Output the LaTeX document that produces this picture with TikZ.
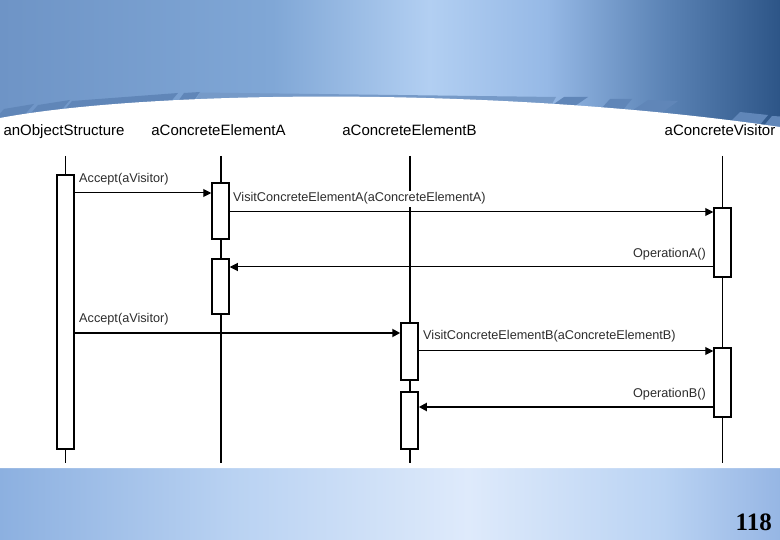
\documentclass[tikz,border=0pt]{standalone}
\usepackage{fontspec}
\setmainfont{Liberation Sans}
\newfontfamily\numfont{Liberation Serif}
\usetikzlibrary{arrows.meta}
\definecolor{bgA}{RGB}{110,148,198}
\definecolor{bgB}{RGB}{128,167,214}
\definecolor{bgC}{RGB}{178,207,242}
\definecolor{bgD}{RGB}{150,185,230}
\definecolor{bgE}{RGB}{92,132,182}
\definecolor{bgF}{RGB}{45,85,135}
\definecolor{btA}{RGB}{140,176,224}
\definecolor{btB}{RGB}{185,210,242}
\definecolor{btC}{RGB}{222,234,251}
\definecolor{btD}{RGB}{186,211,243}
\definecolor{btE}{RGB}{150,182,228}
\definecolor{stripe}{RGB}{96,134,184}
\definecolor{stripeL}{RGB}{118,154,200}
\definecolor{txt}{RGB}{45,45,45}
\pgfdeclarehorizontalshading{topbg}{100bp}{color(0bp)=(bgA); color(25bp)=(bgA); color(42.5bp)=(bgB); color(52.5bp)=(bgC); color(60bp)=(bgD); color(67.5bp)=(bgE); color(75bp)=(bgF); color(100bp)=(bgF)}
\pgfdeclarehorizontalshading{botbg}{100bp}{color(0bp)=(btA); color(25bp)=(btA); color(40bp)=(btB); color(55bp)=(btC); color(67.5bp)=(btD); color(75bp)=(btE); color(100bp)=(btE)}
\tikzset{
  act/.style={draw=black, fill=white, line width=1.5pt, minimum width=17pt, inner sep=0pt, rectangle},
  header/.style={anchor=base, text=black, font=\fontsize{15}{15}\selectfont, inner sep=0pt},
  msglabel/.style={text=txt, font=\fontsize{12.7}{13}\selectfont, inner sep=0pt},
  msg/.style={line width=1pt, -{Triangle[length=8pt,width=8pt]}},
  msgthick/.style={line width=1.8pt, -{Triangle[length=8pt,width=8pt]}},
  lifethin/.style={line width=1pt},
  lifethick/.style={line width=2pt},
}
\begin{document}
\begin{tikzpicture}[x=1pt,y=-1pt]
\useasboundingbox (0,0) rectangle (780,540);
% backgrounds
\shade[shading=topbg] (0,0) rectangle (780,135);
\shade[shading=botbg] (0,460) rectangle (780,540);
% stripes
\fill[stripe] (-10,125) -- (20,120) -- (34,104) -- (4,109) -- cycle;
\fill[stripe] (26,119) -- (58,114) -- (70,100) -- (38,105) -- cycle;
\fill[stripe] (62,113) -- (168,105) -- (178,93) -- (72,101) -- cycle;
\fill[stripe] (176,104) -- (192,103) -- (200,92) -- (184,93) -- cycle;
\fill[stripeL] (195,102) -- (552,104) -- (556,97) -- (200,92.5) -- cycle;
\fill[stripe] (548,108) -- (572,108) -- (588,97) -- (564,97) -- cycle;
\fill[stripe] (600,110) -- (622,111) -- (632,99) -- (610,99) -- cycle;
\fill[stripe] (630,112) -- (660,114) -- (678,101) -- (648,100) -- cycle;
\fill[stripe] (728,124) -- (758,127) -- (768,115) -- (740,112) -- cycle;
\fill[stripe] (762,128) -- (790,131) -- (790,117) -- (772,116) -- cycle;
% white area
\fill[white] (0,118) .. controls (150,90) and (500,86) .. (780,127) -- (780,468) -- (0,468) -- cycle;
% headers
\node[header] (hOS) at (64,136) {anObjectStructure};
\node[header] (hA) at (218.5,136) {aConcreteElementA};
\node[header] (hB) at (409.5,136) {aConcreteElementB};
\node[header] (hV) at (720,136) {aConcreteVisitor};
% lifelines
\coordinate (osT) at (65.5,156); \coordinate (osB) at (65.5,463);
\coordinate (aT) at (220.5,156); \coordinate (aB) at (220.5,463);
\coordinate (bT) at (409.5,156); \coordinate (bB) at (409.5,463);
\coordinate (vT) at (722.5,156); \coordinate (vB) at (722.5,463);
\draw[lifethin] (osT) -- (osB);
\draw[lifethick] (aT) -- (aB);
\draw[lifethick] (bT) -- (bB);
\draw[lifethin] (vT) -- (vB);
% activations
\node[act, minimum height=274pt] (os) at (65.5,312) {};
\node[act, minimum height=56pt] (a1) at (220.5,211) {};
\node[act, minimum height=55pt] (a2) at (220.5,286.5) {};
\node[act, minimum height=57pt] (b1) at (409.5,351.5) {};
\node[act, minimum height=57pt] (b2) at (409.5,420.5) {};
\node[act, minimum height=69pt] (v1) at (722.5,242.5) {};
\node[act, minimum height=69pt] (v2) at (722.5,382.5) {};
% messages
\draw[msg] (os.east |- 0,193) -- (a1.west |- 0,193);
\node[msglabel, anchor=base west] (l1) at (79,183) {Accept(aVisitor)};
\draw[msg] (a1.east |- 0,212) -- (v1.west |- 0,212);
\node[msglabel, anchor=base west, fill=white, inner ysep=2pt] (l2) at (233,202) {VisitConcreteElementA(aConcreteElementA)};
\draw[msg] (v1.west |- 0,267) -- (a2.east |- 0,267);
\node[msglabel, anchor=base east] (l3) at (706,258) {OperationA()};
\draw[msgthick] (os.east |- 0,333) -- (b1.west |- 0,333);
\node[msglabel, anchor=base west] (l4) at (79,323) {Accept(aVisitor)};
\draw[msg] (b1.east |- 0,351) -- (v2.west |- 0,351);
\node[msglabel, anchor=base west] (l5) at (423,340) {VisitConcreteElementB(aConcreteElementB)};
\draw[msgthick] (v2.west |- 0,407) -- (b2.east |- 0,407);
\node[msglabel, anchor=base east] (l6) at (706,397) {OperationB()};
% page number
\node[anchor=base east, inner sep=0pt, font=\numfont\bfseries\fontsize{25}{25}\selectfont] (pg) at (772,530) {118};
\end{tikzpicture}
\end{document}
